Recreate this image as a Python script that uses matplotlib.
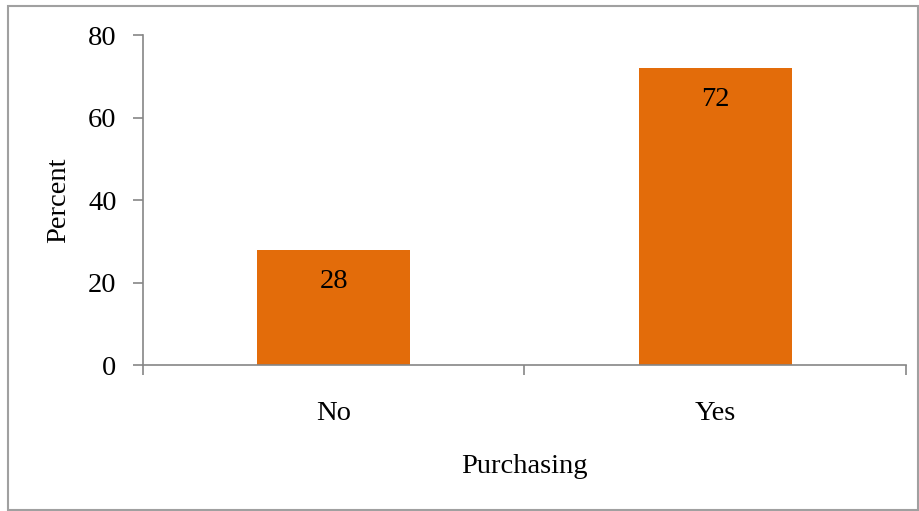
import matplotlib
matplotlib.use("Agg")
import matplotlib.pyplot as plt
from matplotlib.patches import Rectangle

categories = ["No", "Yes"]
values = [28, 72]
yticks = [0, 20, 40, 60, 80]

plt.rcParams['font.family'] = ['Liberation Serif', 'DejaVu Serif']
fig = plt.figure(figsize=(9.2, 5.11), dpi=100)
ax = fig.add_axes([143/920, 1-365/511, (906-143)/920, (365-35)/511])

FS = 20.5
bar_color = "#E36C0A"
axis_color = "#868686"
x = list(range(len(categories)))
bars = ax.bar(x, values, width=0.4, color=bar_color, zorder=2)
for b, v in zip(bars, values):
    ax.annotate(str(v), (b.get_x() + b.get_width()/2, v), xytext=(0, -23),
                textcoords="offset points", ha="center", va="center", fontsize=FS, color="black")

ax.set_xlim(-0.5, len(categories) - 0.5)
ax.set_ylim(0, 80)
ax.set_yticks(yticks)
ax.set_yticklabels([str(t) for t in yticks], fontsize=FS)
ax.set_xticks(x)
ax.set_xticklabels(categories, fontsize=FS)
ax.tick_params(axis='x', length=0, pad=26)
ax.tick_params(axis='y', length=7, width=1.2, color=axis_color, pad=12)
ax.set_xticks([-0.5, 0.5, 1.5], minor=True)
ax.tick_params(axis='x', which='minor', length=7, width=1.2, color=axis_color)
for s in ["top", "right"]:
    ax.spines[s].set_visible(False)
for s in ["left", "bottom"]:
    ax.spines[s].set_color(axis_color)
    ax.spines[s].set_linewidth(1.2)
ax.set_ylabel("Percent", fontsize=FS, labelpad=12)
ax.set_xlabel("Purchasing", fontsize=FS, labelpad=20)

fig.patches.append(Rectangle((8/920, 1-510/511), (918-8)/920, (510-6)/511,
                             transform=fig.transFigure, fill=False,
                             edgecolor="#A0A0A0", linewidth=1.5))
fig.savefig("out.png", dpi=100)
